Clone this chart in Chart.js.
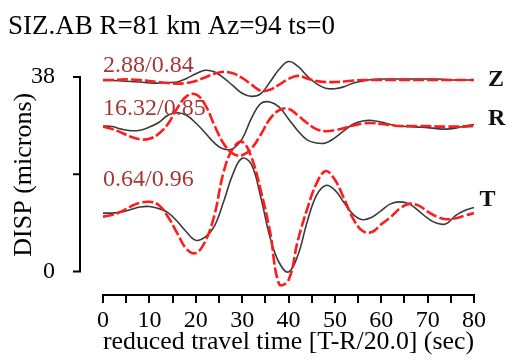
<!DOCTYPE html>
<html>
<head>
<meta charset="utf-8">
<title>SIZ.AB waveform fit</title>
<script src="https://cdn.jsdelivr.net/npm/chart.js@4.4.0/dist/chart.umd.min.js"></script>
<style>
  html, body { margin: 0; padding: 0; background: #fff; }
</style>
</head>
<body>
<canvas id="seisChart" width="519" height="361"></canvas>
<script>
// reduced travel time (sec)
const time = [0, 2, 4, 6, 8, 10, 12, 14, 16, 18, 20, 22, 24, 26, 28, 30, 32, 34, 36, 38, 40,
              42, 44, 46, 48, 50, 52, 54, 56, 58, 60, 62, 64, 66, 68, 70, 72, 74, 76, 78, 80];

// displacement traces (microns, offset per component) - observed (black) and synthetic (red)
const zObs = [37.3, 37.3, 37.2, 37.1, 37.0, 36.8, 36.8, 36.9, 37.0, 37.7, 38.6, 39.3, 39.0, 37.8, 36.3, 34.8, 34.2, 34.7, 37.0, 39.5, 41.0,
              40.1, 38.2, 36.7, 35.8, 35.7, 36.1, 36.8, 37.2, 37.5, 37.6, 37.6, 37.6, 37.6, 37.6, 37.6, 37.6, 37.5, 37.4, 37.4, 37.4];
const zSyn = [37.4, 37.4, 37.5, 37.5, 37.4, 37.2, 37.0, 36.8, 36.7, 36.8, 37.2, 37.9, 38.6, 39.0, 38.7, 37.8, 36.5, 35.3, 35.5, 36.5, 37.6,
              38.2, 37.7, 37.2, 37.0, 37.0, 37.1, 37.3, 37.4, 37.4, 37.4, 37.4, 37.4, 37.4, 37.4, 37.4, 37.4, 37.4, 37.4, 37.4, 37.4];
const rObs = [28.4, 28.3, 27.8, 27.5, 27.6, 28.2, 29.1, 30.5, 31.0, 30.5, 29.0, 27.1, 25.1, 23.9, 24.0, 25.9, 29.9, 32.8, 33.1, 32.1, 29.8,
              27.5, 25.7, 25.1, 25.1, 26.1, 27.5, 28.8, 29.4, 29.5, 29.2, 28.7, 28.4, 28.3, 28.2, 28.1, 27.9, 27.8, 28.0, 28.4, 28.7];
const rSyn = [28.3, 27.8, 27.1, 26.3, 25.8, 25.9, 26.9, 28.8, 31.9, 34.2, 34.6, 32.6, 28.6, 25.0, 23.0, 22.7, 24.0, 26.7, 29.8, 31.5, 31.8,
              30.5, 29.0, 27.8, 27.4, 27.6, 28.0, 28.5, 28.9, 29.0, 28.8, 28.6, 28.4, 28.4, 28.4, 28.4, 28.3, 28.3, 28.3, 28.3, 28.4];
const tObs = [11.4, 11.4, 11.6, 12.1, 12.6, 12.7, 12.3, 11.5, 9.8, 7.7, 6.1, 6.7, 8.8, 13.6, 19.0, 22.1, 20.9, 14.6, 6.7, 1.7, -0.1,
              3.1, 9.6, 14.8, 16.8, 15.9, 13.4, 11.1, 10.1, 10.6, 11.9, 13.2, 13.6, 13.2, 11.9, 10.4, 9.4, 9.3, 10.9, 11.9, 12.5];
const tSyn = [10.7, 11.1, 11.7, 12.7, 13.4, 13.6, 13.0, 10.7, 7.5, 4.4, 3.6, 5.8, 10.9, 19.4, 24.0, 25.3, 22.3, 15.9, 7.9, -2.5, -1.7,
              6.0, 12.1, 17.1, 19.6, 17.9, 14.2, 10.2, 7.9, 7.7, 9.2, 10.6, 12.3, 13.2, 12.9, 11.7, 10.7, 10.2, 10.4, 10.9, 11.4];

const components = ['Z', 'R', 'T'];
const fitLabels = ['2.88/0.84', '16.32/0.85', '0.64/0.96'];
const yTicks = [0, 19, 38];
const yTickLabels = ['0', '', '38'];

const serif = "'Liberation Serif', 'Times New Roman', serif";
const pts = arr => time.map((t, i) => ({ x: t, y: arr[i] }));

const synStyle = { borderColor: '#ff1c1c', borderWidth: 2.6, borderDash: [11, 3], pointRadius: 0, tension: 0.4, fill: false };
const obsStyle = { borderColor: '#3a3a3a', borderWidth: 1.6, pointRadius: 0, tension: 0.4, fill: false };

// y axis drawn only over 0..38 and pulled left of the plot, plus the text labels
const traceLabels = {
  id: 'traceLabels',
  afterDraw(chart, args, opts) {
    const { ctx, chartArea, scales: { x, y } } = chart;
    const ax = chartArea.left - opts.axisGap;
    ctx.save();
    ctx.strokeStyle = '#000';
    ctx.lineWidth = 2;
    ctx.beginPath();
    ctx.moveTo(ax, y.getPixelForValue(yTicks[0]) + 1);
    ctx.lineTo(ax, y.getPixelForValue(yTicks[yTicks.length - 1]) - 1);
    yTicks.forEach(v => {
      const py = y.getPixelForValue(v);
      ctx.moveTo(ax - 7, py);
      ctx.lineTo(ax, py);
    });
    ctx.stroke();

    ctx.textBaseline = 'alphabetic';
    ctx.textAlign = 'left';
    ctx.fillStyle = '#a23838';
    ctx.font = '24px ' + serif;
    fitLabels.forEach((txt, i) => {
      ctx.fillText(txt, x.getPixelForValue(0), y.getPixelForValue(opts.fitY[i]));
    });

    ctx.fillStyle = '#111';
    ctx.font = 'bold 24px ' + serif;
    components.forEach((c, i) => {
      ctx.fillText(c, x.getPixelForValue(opts.compX[i]), y.getPixelForValue(opts.compY[i]));
    });
    ctx.restore();
  }
};

const ctx = document.getElementById('seisChart').getContext('2d');
const seisChart = new Chart(ctx, {
  type: 'line',
  data: {
    datasets: [
      { label: 'Z syn', data: pts(zSyn), ...synStyle, order: 0 },
      { label: 'R syn', data: pts(rSyn), ...synStyle, order: 0 },
      { label: 'T syn', data: pts(tSyn), ...synStyle, order: 0 },
      { label: 'Z obs', data: pts(zObs), ...obsStyle, order: 1 },
      { label: 'R obs', data: pts(rObs), ...obsStyle, order: 1 },
      { label: 'T obs', data: pts(tObs), ...obsStyle, order: 1 }
    ]
  },
  options: {
    responsive: false,
    animation: false,
    devicePixelRatio: 1,
    layout: { padding: { left: 8, right: 45, top: 0, bottom: 0 } },
    plugins: {
      legend: { display: false },
      tooltip: { enabled: false },
      title: {
        display: true,
        text: 'SIZ.AB R=81 km Az=94 ts=0',
        align: 'start',
        color: '#000',
        font: { family: serif, size: 27, weight: 'normal' },
        padding: { top: 7, bottom: 11 }
      },
      traceLabels: {
        axisGap: 23,
        fitY: [39.0, 30.5, 16.6],
        compX: [83.0, 83.0, 81.2],
        compY: [36.3, 28.6, 12.7]
      }
    },
    scales: {
      x: {
        type: 'linear',
        min: 0,
        max: 80,
        afterFit: s => { s.height = 66; },
        ticks: {
          stepSize: 5,
          autoSkip: false,
          maxRotation: 0,
          padding: 3,
          color: '#000',
          font: { family: serif, size: 24 },
          callback: v => (v % 10 === 0 ? v : '')
        },
        grid: { drawOnChartArea: false, drawTicks: true, tickLength: 8, color: '#000', lineWidth: 2 },
        border: { display: true, color: '#000', width: 2 },
        title: {
          display: true,
          text: 'reduced travel time [T-R/20.0] (sec)',
          color: '#000',
          font: { family: serif, size: 26 },
          padding: { top: 0, bottom: 3 }
        }
      },
      y: {
        type: 'linear',
        min: -4.6,
        max: 42.4,
        afterFit: s => { s.width = 95; },
        afterBuildTicks: s => { s.ticks = yTicks.map(v => ({ value: v })); },
        ticks: {
          padding: 40,
          color: '#000',
          font: { family: serif, size: 24 },
          callback: (v, i) => yTickLabels[i]
        },
        grid: { display: false },
        border: { display: false },
        title: {
          display: true,
          text: 'DISP (microns)',
          color: '#000',
          font: { family: serif, size: 26 },
          padding: { top: 1, bottom: 0 }
        }
      }
    }
  },
  plugins: [traceLabels]
});
</script>
</body>
</html>
